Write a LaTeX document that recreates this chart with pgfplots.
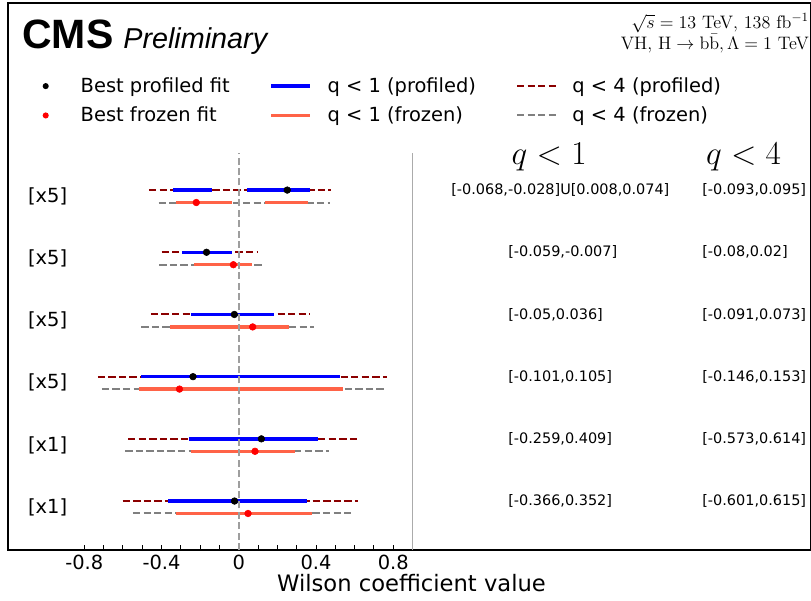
\RequirePackage{fix-cm}
\documentclass[border=0pt]{standalone}
\usepackage[no-math]{fontspec}
\usepackage{pgfplots}
\pgfplotsset{compat=1.18}
\newfontfamily\dv{DejaVu Sans}
\newfontfamily\hv{Liberation Sans}
\definecolor{tomato}{RGB}{255,99,71}
\definecolor{darkred}{RGB}{139,0,0}
\definecolor{mplgray}{RGB}{128,128,128}
\definecolor{mplblue}{RGB}{0,0,255}
\newcommand{\fs}[1]{\fontsize{#1}{#1}\selectfont}
\pgfplotsset{
    dotlegend/.style={legend image code/.code={\path[draw=none, fill=none] (0pt,0pt) -- (28pt,0pt);
        \fill[##1, draw=none] (14pt,0pt) circle[radius=2.2pt];}},
    linelegend/.style={legend image code/.code={\draw[##1] (0pt,0pt) -- (28pt,0pt);}},
}

\begin{document}
\begin{tikzpicture}
\path[use as bounding box] (-5.76pt,-36pt) rectangle (578.16pt,396pt);
\begin{axis}[
    width=578.16pt, height=393.84pt, scale only axis,
    xmin=-1.195, xmax=2.963, ymin=0.313, ymax=9.108,
    axis line style={line width=0.8pt},
    xtick={-0.8,-0.4,0,0.4,0.8},
    xticklabels={-0.8,-0.4,0,0.4,0.8},
    minor xtick={-0.7,-0.6,-0.5,-0.3,-0.2,-0.1,0.1,0.2,0.3,0.5,0.6,0.7,0.9},
    ytick=\empty,
    xtick pos=left, tick align=inside,
    major tick length=3.6pt, minor tick length=3.6pt,
    every tick/.style={black, line width=0.7pt},
    xticklabel style={font=\dv\fs{14}, anchor=base, yshift=-13.9pt},
    xlabel={Wilson coefficient value},
    xlabel style={font=\dv\fs{16.3}, at={(axis description cs:0.5025,0)}, anchor=base, yshift=-30.2pt},
    clip=false,
    unbounded coords=jump,
    legend columns=3,
    legend cell align=left,
    legend style={at={(0.0224,0.864)}, anchor=north west, draw=none, fill=none,
        inner sep=0pt, font=\dv\fs{14}, row sep=9pt,
        nodes={inner sep=0pt},
        /tikz/every odd column/.append style={column sep=11.2pt},
        /tikz/every even column/.append style={column sep=28.8pt}},
]
% legend handles
\addlegendimage{black, dotlegend}
\addlegendimage{mplblue, line width=2.4pt, linelegend}
\addlegendimage{darkred, line width=1.44pt, dash pattern=on 5.3pt off 2.3pt, linelegend}
\addlegendimage{red, dotlegend}
\addlegendimage{tomato, line width=2.4pt, linelegend}
\addlegendimage{mplgray, line width=1.44pt, dash pattern=on 5.3pt off 2.3pt, linelegend}
\legend{Best profiled fit, q < 1 (profiled), q < 4 (profiled), Best frozen fit, q < 1 (frozen), q < 4 (frozen)}

% q<4 profiled
\addplot[darkred, line width=1.44pt, dash pattern=on 5.3pt off 2.3pt] coordinates {
    (-0.465,6.1) (0.475,6.1) (nan,nan)
    (-0.40,5.1) (0.10,5.1) (nan,nan)
    (-0.455,4.1) (0.365,4.1) (nan,nan)
    (-0.73,3.1) (0.765,3.1) (nan,nan)
    (-0.573,2.1) (0.614,2.1) (nan,nan)
    (-0.601,1.1) (0.615,1.1)
};
% q<4 frozen
\addplot[mplgray, line width=1.44pt, dash pattern=on 5.3pt off 2.3pt] coordinates {
    (-0.415,5.9) (0.47,5.9) (nan,nan)
    (-0.412,4.9) (0.134,4.9) (nan,nan)
    (-0.505,3.9) (0.39,3.9) (nan,nan)
    (-0.709,2.9) (0.763,2.9) (nan,nan)
    (-0.588,1.9) (0.467,1.9) (nan,nan)
    (-0.548,0.9) (0.581,0.9)
};
% q<1 profiled
\addplot[mplblue, line width=2.4pt] coordinates {
    (-0.34,6.1) (-0.14,6.1) (nan,nan)
    (0.04,6.1) (0.37,6.1) (nan,nan)
    (-0.295,5.1) (-0.035,5.1) (nan,nan)
    (-0.25,4.1) (0.18,4.1) (nan,nan)
    (-0.505,3.1) (0.525,3.1) (nan,nan)
    (-0.259,2.1) (0.409,2.1) (nan,nan)
    (-0.366,1.1) (0.352,1.1)
};
% q<1 frozen
\addplot[tomato, line width=2.4pt] coordinates {
    (-0.324,5.9) (-0.034,5.9) (nan,nan)
    (0.137,5.9) (0.358,5.9) (nan,nan)
    (-0.23,4.9) (0.07,4.9) (nan,nan)
    (-0.355,3.9) (0.26,3.9) (nan,nan)
    (-0.519,2.9) (0.54,2.9) (nan,nan)
    (-0.248,1.9) (0.293,1.9) (nan,nan)
    (-0.325,0.9) (0.379,0.9)
};
% reference lines
\addplot[black!38, line width=1.1pt, dash pattern=on 5pt off 2.5pt] coordinates {(0,0.313) (0,6.70)};
\addplot[black!33, line width=1.1pt] coordinates {(0.9,0.313) (0.9,6.70)};
% best fits
\addplot[only marks, mark=*, mark size=2.4pt, black] coordinates {
    (0.251,6.1) (-0.167,5.1) (-0.023,4.1) (-0.237,3.1) (0.117,2.1) (-0.022,1.1)};
\addplot[only marks, mark=*, mark size=2.4pt, red] coordinates {
    (-0.22,5.9) (-0.028,4.9) (0.072,3.9) (-0.307,2.9) (0.084,1.9) (0.048,0.9)};

% row labels
\node[font=\dv\fs{14}] at (axis cs:-0.99,6) {[x5]};
\node[font=\dv\fs{14}] at (axis cs:-0.99,5) {[x5]};
\node[font=\dv\fs{14}] at (axis cs:-0.99,4) {[x5]};
\node[font=\dv\fs{14}] at (axis cs:-0.99,3) {[x5]};
\node[font=\dv\fs{14}] at (axis cs:-0.99,2) {[x1]};
\node[font=\dv\fs{14}] at (axis cs:-0.99,1) {[x1]};

% header
\node[anchor=base west, inner sep=0pt, font=\hv\bfseries\fs{29.5}] at (axis cs:-1.122,8.384) {CMS};
\node[anchor=base west, inner sep=0pt, font=\hv\itshape\fs{20.7}] at (axis cs:-0.599,8.384) {Preliminary};
\node[anchor=base east, inner sep=0pt, font=\fs{13}] at (axis cs:2.953,8.70) {$\sqrt{s} = 13$ TeV, 138 fb$^{-1}$};
\node[anchor=base east, inner sep=0pt, font=\fs{13}] at (axis cs:2.953,8.36) {VH, $\mathrm{H} \rightarrow \mathrm{b}\bar{\mathrm{b}}, \Lambda = 1$ TeV};

% interval table
\node[font=\fs{24}] at (axis cs:1.607,6.63) {$q<1$};
\node[font=\fs{24}] at (axis cs:2.614,6.63) {$q<4$};
\node[anchor=west, inner sep=0pt, font=\dv\fs{10.4}] at (axis cs:1.099,6.1) {[-0.068,-0.028]U[0.008,0.074]};
\node[anchor=west, inner sep=0pt, font=\dv\fs{10.4}] at (axis cs:1.394,5.1) {[-0.059,-0.007]};
\node[anchor=west, inner sep=0pt, font=\dv\fs{10.4}] at (axis cs:1.394,4.1) {[-0.05,0.036]};
\node[anchor=west, inner sep=0pt, font=\dv\fs{10.4}] at (axis cs:1.394,3.1) {[-0.101,0.105]};
\node[anchor=west, inner sep=0pt, font=\dv\fs{10.4}] at (axis cs:1.394,2.1) {[-0.259,0.409]};
\node[anchor=west, inner sep=0pt, font=\dv\fs{10.4}] at (axis cs:1.394,1.1) {[-0.366,0.352]};
\node[anchor=west, inner sep=0pt, font=\dv\fs{10.4}] at (axis cs:2.399,6.1) {[-0.093,0.095]};
\node[anchor=west, inner sep=0pt, font=\dv\fs{10.4}] at (axis cs:2.399,5.1) {[-0.08,0.02]};
\node[anchor=west, inner sep=0pt, font=\dv\fs{10.4}] at (axis cs:2.399,4.1) {[-0.091,0.073]};
\node[anchor=west, inner sep=0pt, font=\dv\fs{10.4}] at (axis cs:2.399,3.1) {[-0.146,0.153]};
\node[anchor=west, inner sep=0pt, font=\dv\fs{10.4}] at (axis cs:2.399,2.1) {[-0.573,0.614]};
\node[anchor=west, inner sep=0pt, font=\dv\fs{10.4}] at (axis cs:2.399,1.1) {[-0.601,0.615]};
\end{axis}
\end{tikzpicture}
\end{document}
